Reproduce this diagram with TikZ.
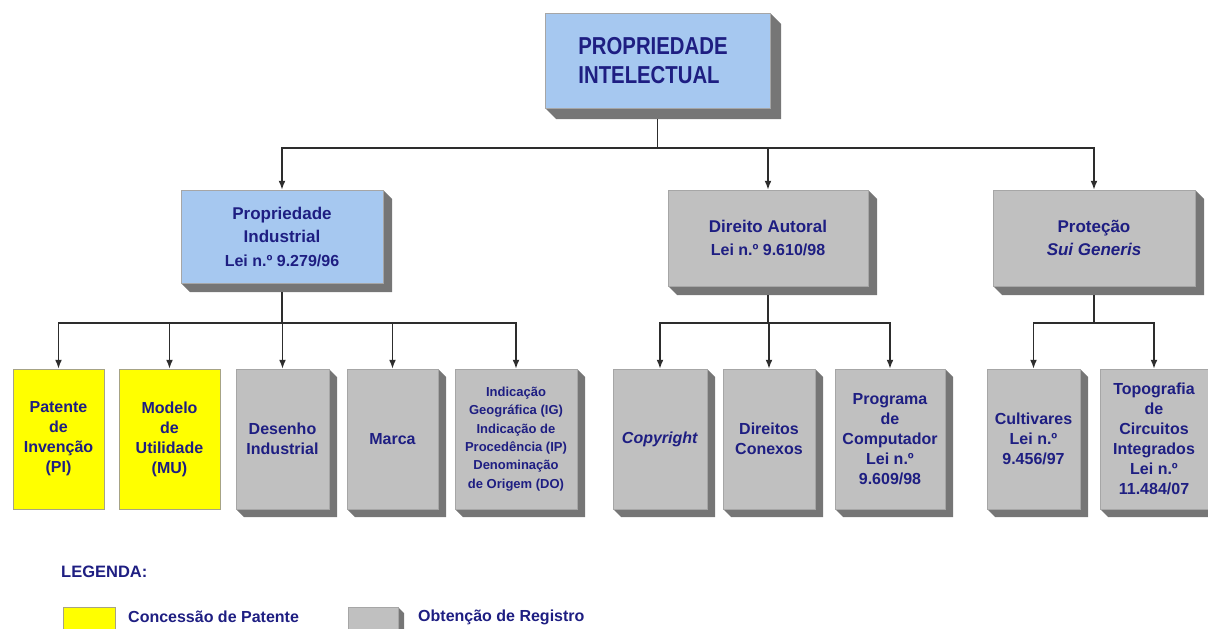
\documentclass[tikz,border=0pt]{standalone}
\usepackage{fontspec}
\setmainfont{Liberation Sans}
\newfontfamily\titlefont[FakeStretch=0.83]{Liberation Sans}
\usetikzlibrary{arrows.meta}
\definecolor{navy}{RGB}{30,30,130}
\definecolor{boxblue}{RGB}{166,200,240}
\definecolor{boxgray}{RGB}{192,192,192}
\definecolor{shadowgray}{RGB}{118,118,118}
\definecolor{boxyellow}{RGB}{255,255,0}
\definecolor{linegray}{RGB}{45,45,45}
\newcommand{\shadowpoly}[5]{%
  \fill[shadowgray] (#3,#2) -- ({#3+#5},{#2+#5}) -- ({#3+#5},{#4+#5}) -- ({#1+#5},{#4+#5}) -- (#1,#4) -- (#3,#4) -- cycle;}
\tikzset{
  boxbase/.style={draw=gray!70, line width=0.5pt, inner sep=0pt, align=center, text=navy,
    font=\bfseries\fontsize{16}{20}\selectfont},
  bluebox/.style={boxbase, fill=boxblue},
  graybox/.style={boxbase, fill=boxgray},
  yellowbox/.style={boxbase, fill=boxyellow, draw=gray!80!yellow},
  midfont/.style={font=\bfseries\fontsize{17}{23.5}\selectfont},
  smallfont/.style={font=\bfseries\fontsize{13}{18.3}\selectfont},
  conn/.style={draw=linegray, line width=1.6pt},
  arr/.style={conn, -{Latex[length=9pt,width=7pt]}},
  legtext/.style={text=navy, inner sep=0pt, anchor=west, font=\bfseries\fontsize{16}{18}\selectfont}
}
\begin{document}
\begin{tikzpicture}[x=1pt,y=-1pt]
\useasboundingbox (0,0) rectangle (1208,629);
% shadows
\shadowpoly{545}{13}{770}{108}{11}
\shadowpoly{181}{190}{383}{283}{9}
\shadowpoly{668}{190}{868}{286}{9}
\shadowpoly{993}{190}{1195}{286}{9}
\shadowpoly{236}{369}{329}{509}{8}
\shadowpoly{347}{369}{438}{509}{8}
\shadowpoly{455}{369}{577}{509}{8}
\shadowpoly{613}{369}{707}{509}{8}
\shadowpoly{723}{369}{815}{509}{8}
\shadowpoly{835}{369}{945}{509}{8}
\shadowpoly{987}{369}{1080}{509}{8}
\shadowpoly{1100}{369}{1208}{509}{8}
\shadowpoly{348}{607}{398}{645}{6}
% level 0
\node[bluebox, minimum width=225pt, minimum height=95pt] (top) at (657.5,60.5) {};
\node[text=navy, inner sep=0pt, align=left,
  font=\titlefont\bfseries\fontsize{24.5}{29}\selectfont] (toptitle) at (653,60.5)
  {PROPRIEDADE\\INTELECTUAL};
% level 1
\node[bluebox, midfont, minimum width=202pt, minimum height=93pt] (pi) at (282,236.5)
  {Propriedade\\Industrial\\{\fontsize{16}{18}\selectfont Lei n.º 9.279/96}};
\node[graybox, midfont, minimum width=200pt, minimum height=96pt] (da) at (768,238)
  {Direito Autoral\\{\fontsize{16}{18}\selectfont Lei n.º 9.610/98}};
\node[graybox, midfont, minimum width=202pt, minimum height=96pt] (sg) at (1094,238)
  {Proteção\\\textit{Sui Generis}};
% level 2
\node[yellowbox, minimum width=91pt, minimum height=140pt] (pat) at (58.5,439) {Patente\\de\\Invenção\\(PI)};
\node[yellowbox, minimum width=101pt, minimum height=140pt] (mod) at (169.5,439) {Modelo\\de\\Utilidade\\(MU)};
\node[graybox, minimum width=93pt, minimum height=140pt] (des) at (282.5,439) {Desenho\\Industrial};
\node[graybox, minimum width=91pt, minimum height=140pt] (mar) at (392.5,439) {Marca};
\node[graybox, smallfont, minimum width=122pt, minimum height=140pt] (ind) at (516,439)
  {Indicação\\Geográfica (IG)\\Indicação de\\Procedência (IP)\\Denominação\\de Origem (DO)};
\node[graybox, minimum width=94pt, minimum height=140pt] (cop) at (660,439) {\textit{Copyright}};
\node[graybox, minimum width=92pt, minimum height=140pt] (dir) at (769,439) {Direitos\\Conexos};
\node[graybox, minimum width=110pt, minimum height=140pt] (prg) at (890,439) {Programa\\de\\Computador\\Lei n.º\\9.609/98};
\node[graybox, minimum width=93pt, minimum height=140pt] (cul) at (1033.5,439) {Cultivares\\Lei n.º\\9.456/97};
\node[graybox, minimum width=108pt, minimum height=140pt] (topo) at (1154,439) {Topografia\\de\\Circuitos\\Integrados\\Lei n.º\\11.484/07};
% connectors
\coordinate (b0) at (657.5,148);
\coordinate (b1) at (282,323);
\coordinate (b2) at (768,323);
\coordinate (b3) at (1094,323);
\draw[conn] (top.south) ++(0,11) -- (b0);
\draw[arr] (b0) -| (pi.north);
\draw[arr] (b0) -| (da.north);
\draw[arr] (b0) -| (sg.north);
\draw[conn] (pi.south) ++(0,9) -- (b1);
\draw[conn] (da.south) ++(0,9) -- (b2);
\draw[conn] (sg.south) ++(0,9) -- (b3);
\foreach \n in {pat,mod,des,mar,ind} \draw[arr] (b1) -| (\n.north);
\foreach \n in {cop,dir,prg} \draw[arr] (b2) -| (\n.north);
\foreach \n in {cul,topo} \draw[arr] (b3) -| (\n.north);
% legend
\node[legtext, font=\bfseries\fontsize{16.5}{18}\selectfont] (leg) at (61,572) {LEGENDA:};
\node[yellowbox, minimum width=52pt, minimum height=40pt] (ly) at (89,627) {};
\node[graybox, minimum width=50pt, minimum height=38pt] (lg) at (373,626) {};
\node[legtext] (lyt) at (128,617) {Concessão de Patente};
\node[legtext] (lgt) at (418,617) {Obtenção de Registro};
\end{tikzpicture}
\end{document}
